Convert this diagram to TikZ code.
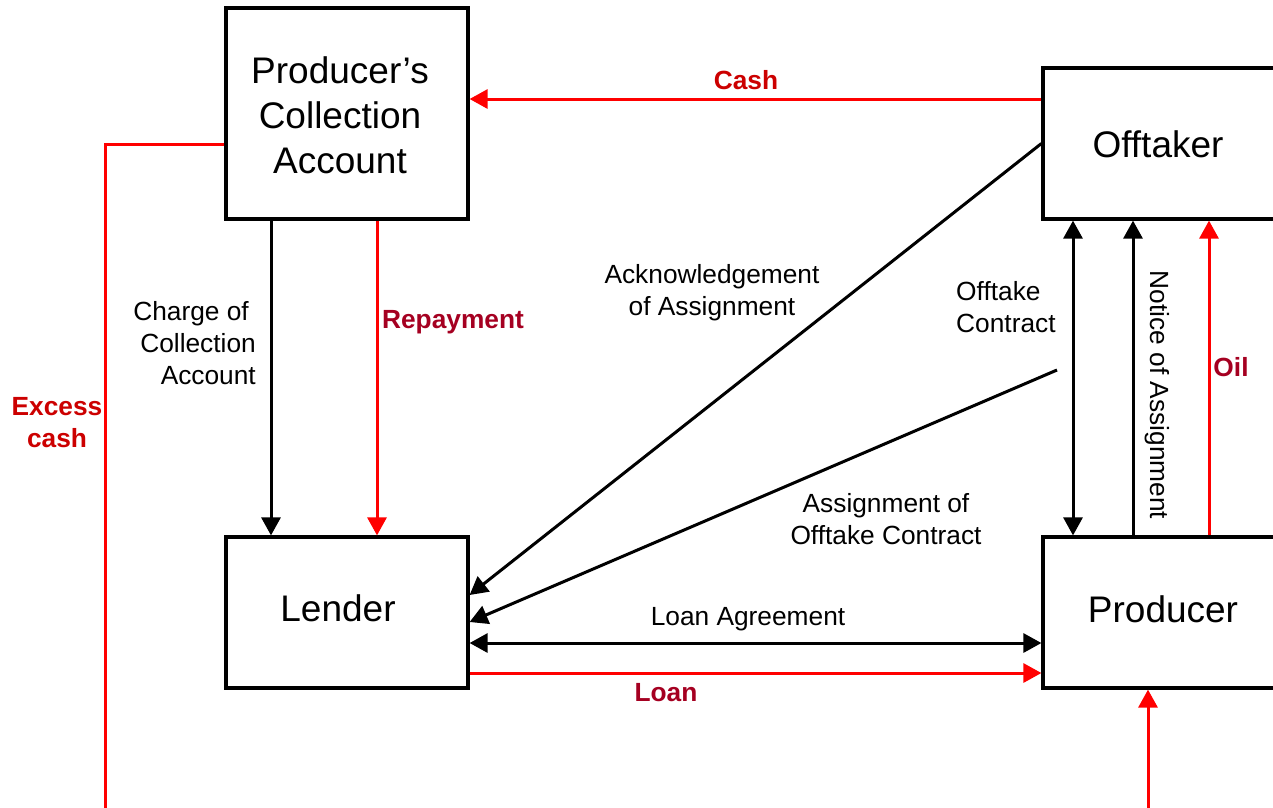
\documentclass[tikz,border=0pt]{standalone}
\usepackage{fontspec}
\setmainfont{Liberation Sans}
\usetikzlibrary{arrows.meta}
\definecolor{lred}{HTML}{CC0000}
\definecolor{maroonlab}{HTML}{A50021}
\definecolor{linered}{HTML}{FF0000}
\begin{document}
\begin{tikzpicture}[x=1pt,y=-1pt,
  box/.style={draw,line width=3.2pt,minimum width=242pt,inner sep=0pt},
  boxtext/.style={font=\fontsize{37}{45}\selectfont,align=center,inner sep=0pt},
  lab/.style={font=\fontsize{26.3}{32}\selectfont,align=center,inner sep=0pt},
  blab/.style={font=\bfseries\fontsize{26.3}{32}\selectfont,align=center,inner sep=0pt},
  conn/.style={line width=3pt,-{Triangle[length=18pt,width=19pt]}},
  dconn/.style={line width=3pt,{Triangle[length=18pt,width=19pt]}-{Triangle[length=18pt,width=19pt]}},
  rconn/.style={conn,draw=linered,-{Triangle[length=18pt,width=19pt,fill=linered]}},
  rline/.style={line width=3pt,draw=linered}]
\useasboundingbox (0,0) rectangle (1273,807);
% boxes
\node[box,minimum height=211pt] (pca) at (347,113.5) {};
\node[boxtext] (pcat) at (340,115) {Producer’s\\Collection\\Account};
\node[box,minimum height=151pt] (off) at (1164,143.5) {};
\node[boxtext] (offt) at (1158,144) {Offtaker};
\node[box,minimum height=151pt] (lender) at (347,612.5) {};
\node[boxtext] (lendert) at (338,608) {Lender};
\node[box,minimum height=151pt] (prod) at (1164,612.5) {};
\node[boxtext] (prodt) at (1163,609) {Producer};
% free ends
\coordinate (exc) at (105,812);
\coordinate (asg) at (1057,370);
\coordinate (bot) at (1148,812);
% connectors
\draw[rconn] (off.west |- 0,99) -- (pca.east |- 0,99);
\draw[rline] (pca.west |- 0,144) -| (exc);
\draw[conn] (pca.south -| 271,0) -- (lender.north -| 271,0);
\draw[rconn] (pca.south -| 377,0) -- (lender.north -| 377,0);
\draw[conn] (off.west) -- (lender.east |- 0,595);
\draw[conn] (asg) -- (lender.east |- 0,622);
\draw[dconn] (off.south -| 1073,0) -- (prod.north -| 1073,0);
\draw[conn] (prod.north -| 1133,0) -- (off.south -| 1133,0);
\draw[rconn] (prod.north -| 1209,0) -- (off.south -| 1209,0);
\draw[dconn] (lender.east |- 0,643) -- (prod.west |- 0,643);
\draw[rconn] (lender.east |- 0,673) -- (prod.west |- 0,673);
\draw[rconn] (bot) -- (prod.south -| 1148,0);
% labels
\node[blab,text=lred] (lcash) at (746,80) {Cash};
\node[blab,text=lred] (lexc) at (57,423) {Excess\\cash};
\node[lab,align=right,anchor=east] (lcharge) at (256,343) {Charge of\hspace*{7pt}\\Collection\\Account};
\node[blab,text=maroonlab] (lrep) at (453,322) {Repayment};
\node[lab] (lack) at (712,293) {Acknowledgement\\of Assignment};
\node[lab,align=left,anchor=west] (loc) at (956,307) {Offtake\\Contract};
\node[lab,rotate=-90] (lnot) at (1157,395) {Notice of Assignment};
\node[blab,text=maroonlab] (loil) at (1231,367) {Oil};
\node[lab] (lasg) at (886,519) {Assignment of\\Offtake Contract};
\node[lab] (lla) at (748,619) {Loan Agreement};
\node[blab,text=maroonlab] (lloan) at (666,693) {Loan};
\end{tikzpicture}
\end{document}
